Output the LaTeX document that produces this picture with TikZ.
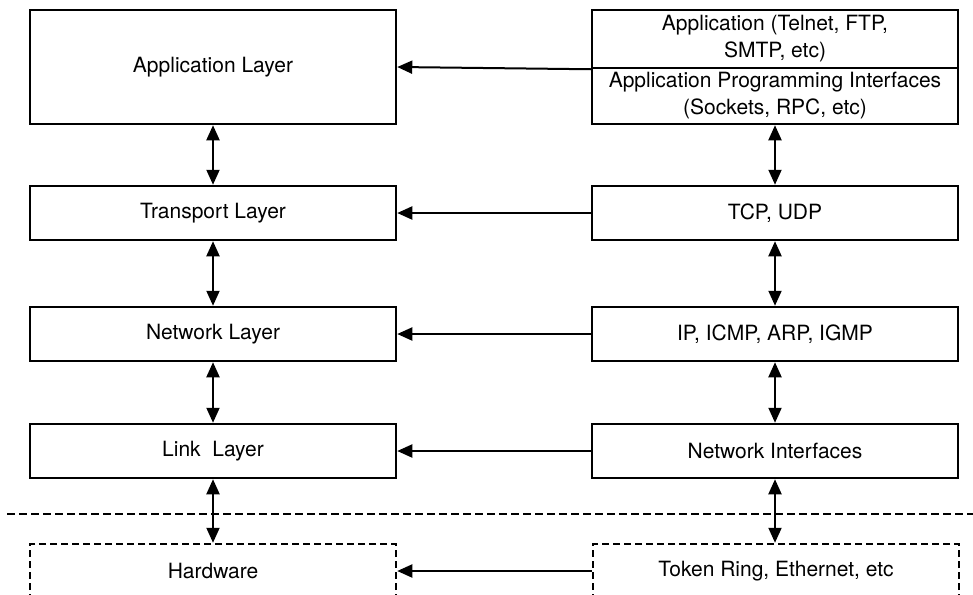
\documentclass[tikz,border=0pt]{standalone}
\usepackage{fontspec}
\setmainfont{TeX Gyre Heros}
\usetikzlibrary{arrows.meta}

\begin{document}
\begin{tikzpicture}[x=1pt,y=-1pt,
    layer/.style={draw,line width=2.5pt,minimum width=366pt,minimum height=54pt,
      inner sep=0pt,align=center,font=\fontsize{21}{27}\selectfont},
    phys/.style={layer,dash pattern=on 7pt off 4pt},
    toleft/.style={line width=2pt,-{Triangle[length=15pt,width=13pt]}},
    updown/.style={line width=2pt,{Triangle[length=15pt,width=13pt]}-{Triangle[length=15pt,width=13pt]}}]
    \useasboundingbox (0,0) rectangle (973,594);
    \clip (0,0) rectangle (973,594);
    % OSI-ish layers on the left
    \node[layer,minimum height=114pt] (app) at (213,67) {Application Layer};
    \node[layer] (trans) at (213,213) {Transport Layer};
    \node[layer] (net) at (213,334) {Network Layer};
    \node[layer] (link) at (213,451) {Link\ \ Layer};
    \node[phys] (hw) at (213,571) {Hardware};
    % protocols on the right
    \node[layer,minimum height=58pt] (apps) at (775,39) {Application (Telnet, FTP,\\SMTP, etc)};
    \node[layer,minimum height=56pt] (api) at (775,96) {Application Programming Interfaces\\(Sockets, RPC, etc)};
    \node[layer] (tcp) at (775,213) {TCP, UDP};
    \node[layer] (ip) at (775,334) {IP, ICMP, ARP, IGMP};
    \node[layer] (nif) at (775,451) {Network Interfaces};
    \node[phys] (eth) at (776,571) {Token Ring, Ethernet, etc};
    \draw[line width=2pt,dash pattern=on 8pt off 4pt] (7,514) -- (973,514);
    \path (apps.south west) edge[toleft] (app.east)
    (tcp) edge[toleft] (trans)
    (ip) edge[toleft] (net)
    (nif) edge[toleft] (link)
    (eth) edge[toleft] (hw)
    (app) edge[updown] (trans)
    (trans) edge[updown] (net)
    (net) edge[updown] (link)
    (link) edge[updown] (hw)
    (api) edge[updown] (tcp)
    (tcp) edge[updown] (ip)
    (ip) edge[updown] (nif)
    (nif) edge[updown] (nif.south |- eth.north);
  \end{tikzpicture}
\end{document}
